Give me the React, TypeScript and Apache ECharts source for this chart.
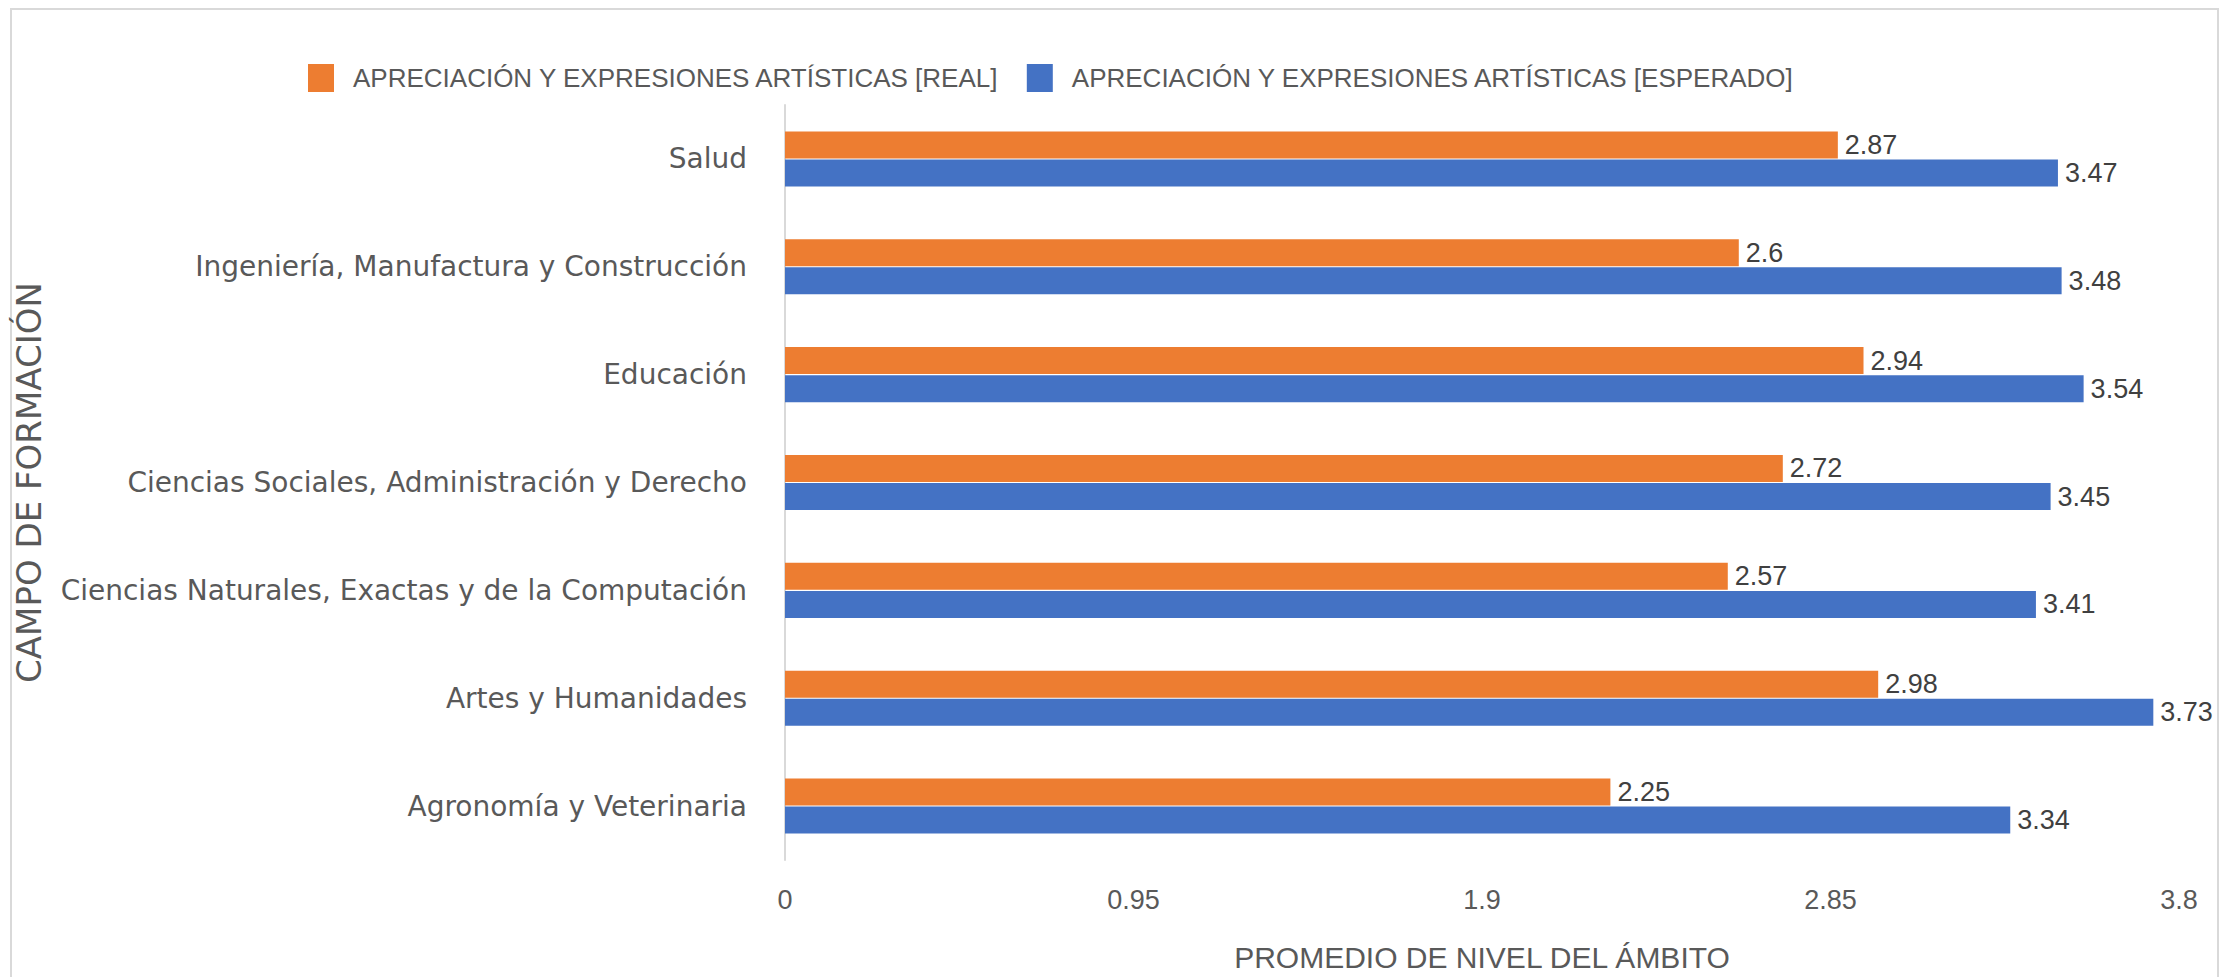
import React, { useEffect, useRef } from "react";
import * as echarts from "echarts";

const categories = [
  "Salud",
  "Ingeniería, Manufactura y Construcción",
  "Educación",
  "Ciencias Sociales, Administración y Derecho",
  "Ciencias Naturales, Exactas y de la Computación",
  "Artes y Humanidades",
  "Agronomía y Veterinaria",
];
const realValues = [2.87, 2.6, 2.94, 2.72, 2.57, 2.98, 2.25];
const expectedValues = [3.47, 3.48, 3.54, 3.45, 3.41, 3.73, 3.34];
const seriesNames = [
  "APRECIACIÓN Y EXPRESIONES ARTÍSTICAS [REAL]",
  "APRECIACIÓN Y EXPRESIONES ARTÍSTICAS [ESPERADO]",
];
const xTicks = [0, 0.95, 1.9, 2.85, 3.8];
const xAxisTitle = "PROMEDIO DE NIVEL DEL ÁMBITO";
const yAxisTitle = "CAMPO DE FORMACIÓN";

const ORANGE = "#ED7D31";
const BLUE = "#4472C4";
const TEXT = "#595959";
const LABEL = "#404040";

export default function App() {
  const ref = useRef<HTMLDivElement>(null);
  useEffect(() => {
    if (!ref.current) return;
    const chart = echarts.init(ref.current, undefined, { renderer: "svg" });
    const step = xTicks[1] - xTicks[0];
    const labelStyle = {
      show: true,
      position: "right" as const,
      distance: 7,
      color: LABEL,
      fontFamily: "Liberation Sans",
      fontSize: 27,
    };
    chart.setOption({
      animation: false,
      backgroundColor: "#ffffff",
      graphic: [
        {
          type: "rect",
          shape: { x: 11, y: 9, width: 2207, height: 1000 },
          style: { fill: "none", stroke: "#D9D9D9", lineWidth: 2 },
          silent: true,
        },
      ],
      legend: {
        left: 303,
        top: 59,
        itemWidth: 26,
        itemHeight: 28,
        itemGap: 27,
        icon: "rect",
        data: seriesNames,
        textStyle: {
          color: TEXT,
          fontFamily: "Liberation Sans",
          fontSize: 26,
          padding: [0, 0, 0, 14],
        },
      },
      grid: { left: 785, right: 42, top: 105, bottom: 106, containLabel: false },
      xAxis: {
        type: "value",
        min: xTicks[0],
        max: xTicks[xTicks.length - 1],
        interval: step,
        axisLine: { show: false },
        axisTick: { show: false },
        splitLine: { show: false },
        axisLabel: {
          color: TEXT,
          fontFamily: "Liberation Sans",
          fontSize: 27,
          margin: 26,
        },
        name: xAxisTitle,
        nameLocation: "middle",
        nameGap: 82,
        nameTextStyle: { color: TEXT, fontFamily: "Liberation Sans", fontSize: 30 },
      },
      yAxis: {
        type: "category",
        data: categories,
        inverse: true,
        axisLine: { show: true, lineStyle: { color: "#D9D9D9", width: 2 } },
        axisTick: { show: false },
        axisLabel: {
          color: TEXT,
          fontFamily: "DejaVu Sans",
          fontSize: 28,
          margin: 38,
        },
        name: yAxisTitle,
        nameLocation: "middle",
        nameGap: 739,
        nameRotate: 90,
        nameTextStyle: { color: TEXT, fontFamily: "DejaVu Sans", fontSize: 34 },
      },
      series: [
        {
          name: seriesNames[0],
          type: "bar",
          data: realValues,
          barWidth: 27,
          barGap: "4%",
          itemStyle: { color: ORANGE },
          label: labelStyle,
        },
        {
          name: seriesNames[1],
          type: "bar",
          data: expectedValues,
          barWidth: 27,
          barGap: "4%",
          itemStyle: { color: BLUE },
          label: labelStyle,
        },
      ],
    });
    return () => chart.dispose();
  }, []);
  return (
    <div
      ref={ref}
      style={{ position: "fixed", left: 0, top: 0, width: 2221, height: 977 }}
    />
  );
}
